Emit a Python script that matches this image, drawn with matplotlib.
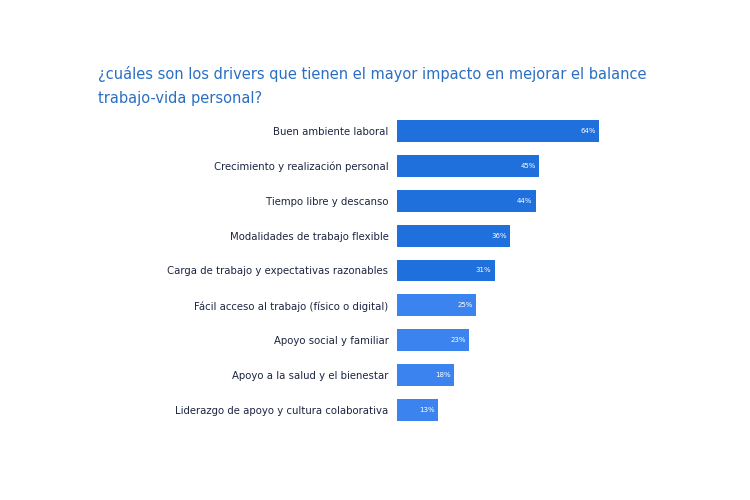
import matplotlib
matplotlib.use("Agg")
import matplotlib.pyplot as plt

categories = [
    "Buen ambiente laboral",
    "Crecimiento y realización personal",
    "Tiempo libre y descanso",
    "Modalidades de trabajo flexible",
    "Carga de trabajo y expectativas razonables",
    "Fácil acceso al trabajo (físico o digital)",
    "Apoyo social y familiar",
    "Apoyo a la salud y el bienestar",
    "Liderazgo de apoyo y cultura colaborativa",
]
values = [64, 45, 44, 36, 31, 25, 23, 18, 13]
value_labels = ["64%", "45%", "44%", "36%", "31%", "25%", "23%", "18%", "13%"]
title = "¿cuáles son los drivers que tienen el mayor impacto en mejorar el balance\ntrabajo-vida personal?"

dark = "#1f6fdc"
light = "#3b84ef"
colors = [dark] * 5 + [light] * 4

fig = plt.figure(figsize=(7.5, 5), dpi=100)
ax = fig.add_axes([0.529, 0.145, 0.421, 0.628])
y = list(range(len(categories)))
ax.barh(y, values, height=0.63, color=colors)
ax.set_xlim(0, 100)
ax.set_ylim(len(categories) - 0.5, -0.5)
ax.set_yticks(y)
ax.set_yticklabels(categories, fontsize=7.3, color="#1c2540")
ax.tick_params(axis="y", length=0, pad=6)
ax.set_xticks([])
for s in ax.spines.values():
    s.set_visible(False)
for yi, v, lab in zip(y, values, value_labels):
    ax.text(v - 1.0, yi, lab, ha="right", va="center", color="white", fontsize=5)

fig.text(0.131, 0.868, title, fontsize=10.5, color="#2a6fc4", ha="left", va="top",
         linespacing=1.75)
fig.savefig("out.png", dpi=100, facecolor="white")
